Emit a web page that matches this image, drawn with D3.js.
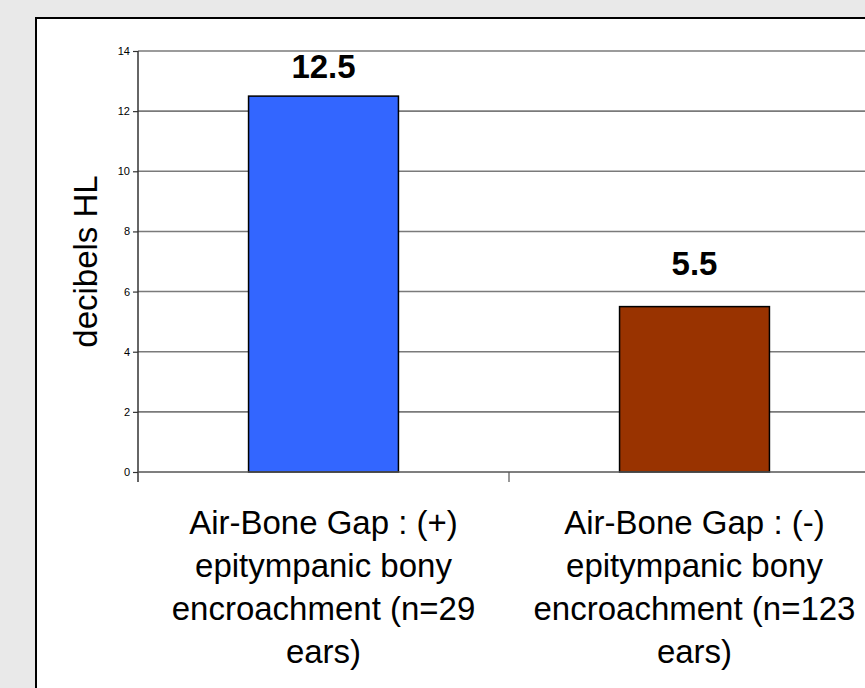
<!DOCTYPE html>
<html>
<head>
<meta charset="utf-8">
<script src="https://cdn.jsdelivr.net/npm/d3@7"></script>
<style>
  html, body { margin: 0; padding: 0; background: #e9e9e9; }
  svg { display: block; }
</style>
</head>
<body>
<svg id="chart" width="865" height="688"></svg>
<script>
// Mean air-bone gap by group
const categories = [
  ["Air-Bone Gap : (+)", "epitympanic bony", "encroachment (n=29", "ears)"],
  ["Air-Bone Gap : (-)", "epitympanic bony", "encroachment (n=123", "ears)"]
];
const values = [12.5, 5.5];
const barColors = ["#3366ff", "#993300"];
const yTicks = [0, 2, 4, 6, 8, 10, 12, 14];
const yTitle = "decibels HL";

const svg = d3.select("#chart");
const W = 865, H = 688;
const font = "Arial, 'Liberation Sans', sans-serif";
const bigSize = 33;

// white chart panel, cut off at the right and bottom edges
svg.append("rect")
  .attr("x", 36).attr("y", 18)
  .attr("width", W).attr("height", H)
  .attr("fill", "#ffffff")
  .attr("stroke", "#000").attr("stroke-width", 2);

const plot = { left: 138, top: 51, bottom: 472, right: 880 };

const y = d3.scaleLinear().domain([0, 14]).range([plot.bottom, plot.top]);
const x = d3.scaleBand()
  .domain(d3.range(categories.length))
  .range([plot.left, plot.right])
  .paddingInner(0.596)
  .paddingOuter(0.298);

// horizontal gridlines
svg.append("g")
  .selectAll("line")
  .data(yTicks.filter(t => t > 0))
  .join("line")
  .attr("x1", plot.left).attr("x2", W)
  .attr("y1", d => y(d)).attr("y2", d => y(d))
  .attr("stroke", "#7a7a7a").attr("stroke-width", 1.6);

// bars
svg.append("g")
  .selectAll("rect")
  .data(values)
  .join("rect")
  .attr("x", (d, i) => x(i))
  .attr("width", x.bandwidth())
  .attr("y", d => y(d))
  .attr("height", d => y(0) - y(d))
  .attr("fill", (d, i) => barColors[i])
  .attr("stroke", "#000").attr("stroke-width", 1.5);

// y axis
const yAxis = d3.axisLeft(y).tickValues(yTicks).tickSize(5).tickPadding(3);
const gy = svg.append("g")
  .attr("transform", `translate(${plot.left},0)`)
  .call(yAxis);
gy.select(".domain").remove();
gy.selectAll(".tick line").attr("stroke", "#333").attr("stroke-width", 1.2);
gy.selectAll(".tick text")
  .attr("font-family", font).attr("font-size", 11).attr("fill", "#000");
gy.append("line")
  .attr("x1", 0).attr("x2", 0)
  .attr("y1", plot.top).attr("y2", plot.bottom + 10)
  .attr("stroke", "#333").attr("stroke-width", 1.5);

// x axis baseline and category divider tick
svg.append("line")
  .attr("x1", plot.left).attr("x2", W)
  .attr("y1", plot.bottom).attr("y2", plot.bottom)
  .attr("stroke", "#555").attr("stroke-width", 1.5);
const step = x.step();
svg.append("g")
  .selectAll("line")
  .data(d3.range(1, categories.length))
  .join("line")
  .attr("x1", d => plot.left + d * step).attr("x2", d => plot.left + d * step)
  .attr("y1", plot.bottom).attr("y2", plot.bottom + 10)
  .attr("stroke", "#555").attr("stroke-width", 1.2);

// value labels above bars, kept inside the plot area
const capHeight = bigSize * 0.716;
svg.append("g")
  .selectAll("text")
  .data(values)
  .join("text")
  .attr("x", (d, i) => x(i) + x.bandwidth() / 2)
  .attr("y", d => Math.max(y(d) - 32, plot.top + capHeight + 3))
  .attr("text-anchor", "middle")
  .attr("font-family", font).attr("font-weight", "bold").attr("font-size", bigSize)
  .text(d => d.toFixed(1));

// category labels
const catG = svg.append("g")
  .selectAll("text")
  .data(categories)
  .join("text")
  .attr("x", (d, i) => x(i) + x.bandwidth() / 2)
  .attr("y", 534)
  .attr("text-anchor", "middle")
  .attr("font-family", font).attr("font-size", bigSize);
catG.selectAll("tspan")
  .data(d => d)
  .join("tspan")
  .attr("x", function () { return d3.select(this.parentNode).attr("x"); })
  .attr("dy", (d, i) => i === 0 ? 0 : 43)
  .text(d => d);

// y axis title
svg.append("text")
  .attr("transform", `translate(97,${(plot.top + plot.bottom) / 2}) rotate(-90)`)
  .attr("text-anchor", "middle")
  .attr("font-family", font).attr("font-size", bigSize)
  .text(yTitle);
</script>
</body>
</html>
